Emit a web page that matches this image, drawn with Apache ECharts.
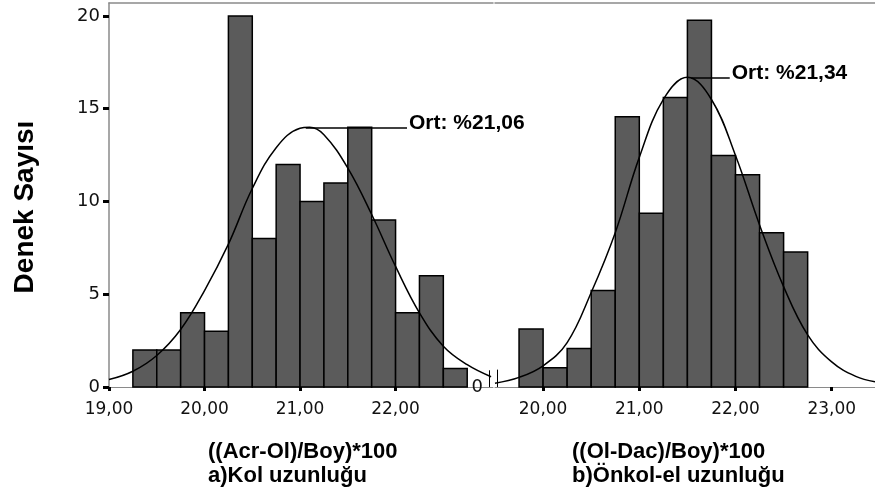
<!DOCTYPE html>
<html>
<head>
<meta charset="utf-8">
<script src="https://cdn.jsdelivr.net/npm/echarts@6/dist/echarts.min.js"></script>
<style>
  html, body { margin: 0; padding: 0; background: #fff; }
  #main { width: 875px; height: 497px; }
</style>
</head>
<body>
<div id="main"></div>
<script>
// a) Kol uzunluğu - histogram (bin lower edges, 0.25 wide) and counts
var binWidth = 0.25;
var leftBins = [19.25, 19.5, 19.75, 20.0, 20.25, 20.5, 20.75, 21.0, 21.25, 21.5, 21.75, 22.0, 22.25, 22.5];
var leftCounts = [2, 2, 4, 3, 20, 8, 12, 10, 11, 14, 9, 4, 6, 1];
// normal curve
var leftCurveX = [19.0, 19.25, 19.5, 19.75, 20.0, 20.25, 20.5, 20.75, 21.0, 21.1, 21.25, 21.5, 21.75, 22.0, 22.25, 22.5, 22.75, 23.0];
var leftCurveY = [0.4, 0.85, 1.7, 3.1, 5.2, 7.7, 10.7, 12.9, 13.95, 14.0, 13.6, 11.8, 9.3, 6.5, 4.0, 2.2, 1.2, 0.55];

// b) Önkol-el uzunluğu
var rightBins = [19.75, 20.0, 20.25, 20.5, 20.75, 21.0, 21.25, 21.5, 21.75, 22.0, 22.25, 22.5];
var rightCounts = [3, 1, 2, 5, 14, 9, 15, 19, 12, 11, 8, 7];
var rightCurveX = [19.5, 19.75, 20.0, 20.25, 20.5, 20.75, 21.0, 21.25, 21.5, 21.75, 22.0, 22.25, 22.5, 22.75, 23.0, 23.25, 23.45];
var rightCurveY = [0.2, 0.5, 1.1, 2.3, 4.9, 8.0, 11.9, 14.9, 16.05, 14.9, 12.0, 8.4, 5.2, 2.7, 1.3, 0.55, 0.27];

// tick labels
var leftTicks = [19, 20, 21, 22];
var rightTicks = [20, 21, 22, 23];
var countTicks = [0, 5, 10, 15, 20];

// mean annotations: [x start, x end, y, text]
var leftMean = [21.06, 22.12, 14.0, 'Ort: %21,06'];
var rightMean = [21.54, 21.94, 16.05, 'Ort: %21,34'];
// axis break marks "||" (x, height)
var leftBreak = [22.98, 0.9];
var rightBreak = [19.52, 0.9];

var barColor = '#5b5b5b';
var axisGray = '#8a8a8a';
var tickFont = 'DejaVu Sans';
var boldFont = 'Liberation Sans';

function histData(bins, counts) {
	var out = [];
	for (var i = 0; i < bins.length; i++) {
		out.push([bins[i], bins[i] + binWidth, counts[i]]);
	}
	return out;
}

function zip(xs, ys) {
	var out = [];
	for (var i = 0; i < xs.length; i++) out.push([xs[i], ys[i]]);
	return out;
}

function renderBar(params, api) {
	var p0 = api.coord([api.value(0), 0]);
	var p1 = api.coord([api.value(1), api.value(2)]);
	return {
		type: 'rect',
		shape: { x: p0[0], y: p1[1], width: p1[0] - p0[0], height: p0[1] - p1[1] },
		style: { fill: barColor, stroke: '#000', lineWidth: 1.5 }
	};
}

function fmt(v) {
	return v.toFixed(2).replace('.', ',');
}

function meanLine(m, brk) {
	return {
		silent: true,
		symbol: ['none', 'none'],
		lineStyle: { color: '#000', width: 1.5, type: 'solid' },
		label: {
			show: true,
			position: 'end',
			distance: 2,
			offset: [0, -4],
			formatter: m[3],
			color: '#000',
			fontFamily: boldFont,
			fontWeight: 'bold',
			fontSize: 21
		},
		data: [
			[{ coord: [m[0], m[2]] }, { coord: [m[1], m[2]] }],
			[{ coord: [brk[0], 0], label: { show: false }, lineStyle: { width: 1 } },
			 { coord: [brk[0], brk[1]] }]
		]
	};
}

var bottomAxis = function (gridIndex, min, max, ticks) {
	return {
		type: 'value',
		gridIndex: gridIndex,
		position: 'bottom',
		min: min,
		max: max,
		axisLine: { show: true, lineStyle: { color: axisGray, width: 1 } },
		axisTick: { show: true, customValues: ticks, length: 4, lineStyle: { color: '#000', width: 3 } },
		axisLabel: { show: true, customValues: ticks, margin: 14, formatter: fmt, color: '#111', fontFamily: tickFont, fontSize: 17 },
		splitLine: { show: false }
	};
};
var topAxis = function (gridIndex, min, max) {
	return {
		type: 'value',
		gridIndex: gridIndex,
		position: 'top',
		min: min,
		max: max,
		axisLine: { show: true, lineStyle: { color: axisGray, width: 1.5 } },
		axisTick: { show: false },
		axisLabel: { show: false },
		splitLine: { show: false }
	};
};

var chart = echarts.init(document.getElementById('main'));

var option = {
	animation: false,
	backgroundColor: '#fff',
	grid: [
		{ left: 109, top: 3, width: 384, bottom: 110 },
		{ left: 495, top: 3, right: 0, bottom: 110 }
	],
	title: [
		{
			text: '((Acr-Ol)/Boy)*100\na)Kol uzunluğu',
			left: 208, top: 440, padding: 0,
			textStyle: { fontFamily: boldFont, fontWeight: 'bold', fontSize: 22, lineHeight: 24, color: '#000' }
		},
		{
			text: '((Ol-Dac)/Boy)*100\nb)Önkol-el uzunluğu',
			left: 572, top: 440, padding: 0,
			textStyle: { fontFamily: boldFont, fontWeight: 'bold', fontSize: 22, lineHeight: 24, color: '#000' }
		}
	],
	graphic: [
		{
			type: 'text',
			x: 25, y: 207,
			rotation: Math.PI / 2,
			style: {
				text: 'Denek Sayısı',
				fontFamily: boldFont, fontWeight: 'bold', fontSize: 28,
				fill: '#000', textAlign: 'center', textVerticalAlign: 'middle'
			}
		}
	],
	xAxis: [
		bottomAxis(0, 19, 23.02, leftTicks),
		bottomAxis(1, 19.5, 23.45, rightTicks),
		topAxis(0, 19, 23.02),
		topAxis(1, 19.5, 23.45)
	],
	yAxis: [
		{
			type: 'value',
			gridIndex: 0,
			min: 0,
			max: 20.7,
			axisLine: { show: true, lineStyle: { color: axisGray, width: 1.5 } },
			axisTick: { show: true, customValues: countTicks, length: 6, lineStyle: { color: '#000', width: 3 } },
			axisLabel: { show: true, customValues: countTicks, margin: 9, color: '#111', fontFamily: tickFont, fontSize: 18 },
			splitLine: { show: false }
		},
		{
			type: 'value',
			gridIndex: 1,
			min: 0,
			max: 19.9,
			axisLine: { show: false },
			axisTick: { show: false },
			axisLabel: { show: true, customValues: [0], margin: 12, color: '#111', fontFamily: tickFont, fontSize: 18 },
			splitLine: { show: false }
		}
	],
	series: [
		{
			type: 'custom',
			xAxisIndex: 0, yAxisIndex: 0,
			renderItem: renderBar,
			data: histData(leftBins, leftCounts)
		},
		{
			type: 'custom',
			xAxisIndex: 1, yAxisIndex: 1,
			renderItem: renderBar,
			data: histData(rightBins, rightCounts)
		},
		{
			type: 'line',
			xAxisIndex: 0, yAxisIndex: 0,
			smooth: 0.4,
			symbol: 'none',
			lineStyle: { color: '#000', width: 1.5 },
			data: zip(leftCurveX, leftCurveY),
			markLine: meanLine(leftMean, leftBreak)
		},
		{
			type: 'line',
			xAxisIndex: 1, yAxisIndex: 1,
			smooth: 0.4,
			symbol: 'none',
			lineStyle: { color: '#000', width: 1.5 },
			data: zip(rightCurveX, rightCurveY),
			markLine: meanLine(rightMean, rightBreak)
		}
	]
};

chart.setOption(option);
</script>
</body>
</html>
